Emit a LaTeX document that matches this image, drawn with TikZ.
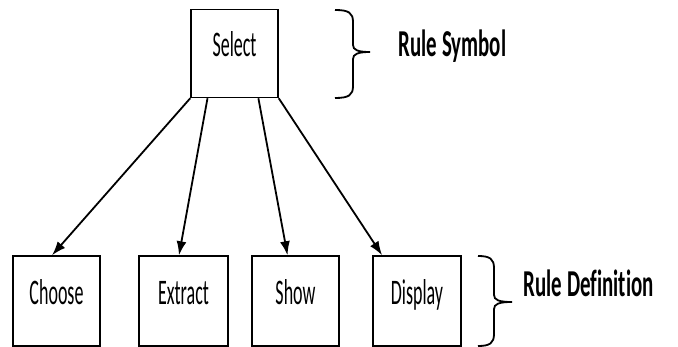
\documentclass[tikz,border=0pt]{standalone}
\usepackage{fontspec}
\newfontfamily\boxfont[FakeStretch=0.5]{Carlito}
\newfontfamily\labfont[FakeStretch=0.55,Ligatures=NoCommon]{Carlito}
\usetikzlibrary{calc,arrows.meta}
\begin{document}
\begin{tikzpicture}[x=1pt,y=-1pt,line width=1.5pt,
  box/.style={draw, minimum width=87pt, minimum height=90pt, inner sep=0pt,
    font=\boxfont\fontsize{36}{42}\selectfont, text height=22pt, text depth=15pt},
  arr/.style={-{Latex[length=14pt,width=10pt]}, line width=1.8pt},
  lab/.style={font=\labfont\bfseries\fontsize{38}{44}\selectfont, anchor=base west, inner sep=0pt},
  brace/.style={line width=1.8pt}]
\useasboundingbox (0,0) rectangle (678,347);
\node[box, minimum height=88pt] (sel) at (234.5,53.5) {Select};
\node[box] (ch) at (56.5,301) {Choose};
\node[box, minimum width=89pt] (ex) at (183.5,301) {Extract};
\node[box] (sh) at (295.5,301) {Show};
\node[box, minimum width=88pt] (di) at (417,301) {Display};
\draw[arr] (sel.south west) -- ($(ch.north west)!0.45!(ch.north east)$);
\draw[arr] ($(sel.south west)!0.195!(sel.south east)$) -- ($(ex.north west)!0.45!(ex.north east)$);
\draw[arr] ($(sel.south west)!0.77!(sel.south east)$) -- ($(sh.north west)!0.41!(sh.north east)$);
\draw[arr] (sel.south east) -- ($(di.north west)!0.11!(di.north east)$);
\draw[brace] (335,10) .. controls (349,10) and (353,13) .. (353,22) -- (353,45)
  .. controls (353,50) and (358,52) .. (370,52)
  .. controls (358,52) and (353,54) .. (353,59) -- (353,86)
  .. controls (353,95) and (349,98) .. (335,98);
\draw[brace] (478,256) .. controls (490,256) and (494,259) .. (494,268) -- (494,295)
  .. controls (494,300) and (499,302) .. (512,302)
  .. controls (499,302) and (494,304) .. (494,309) -- (494,334)
  .. controls (494,343) and (490,346) .. (478,346);
\node[lab] (rs) at (398,57) {Rule Symbol};
\node[lab] (rd) at (523,297) {Rule Definition};
\end{tikzpicture}
\end{document}
